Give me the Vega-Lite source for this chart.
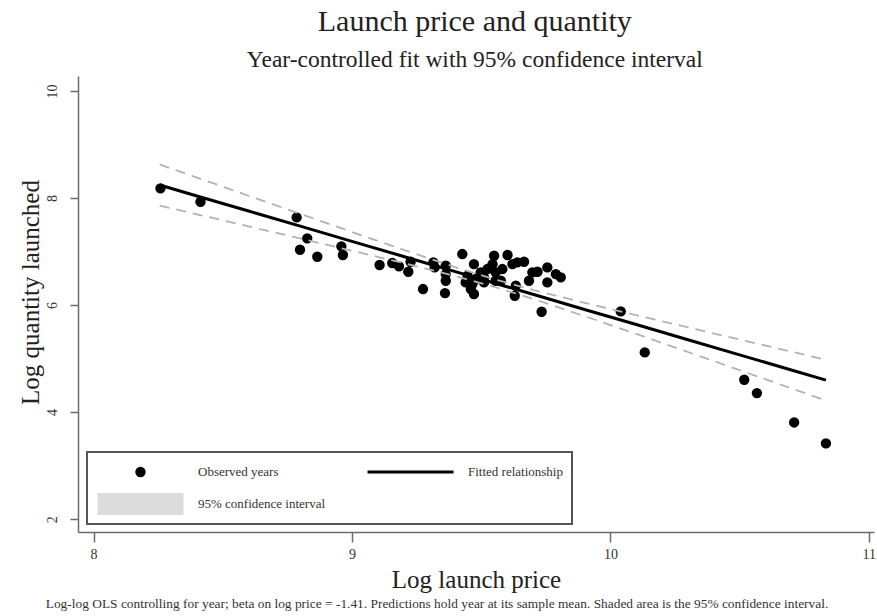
{
  "$schema": "https://vega.github.io/schema/vega-lite/v6.json",
  "background": "white",
  "padding": {"left": 17, "top": 6, "right": 2, "bottom": 0},
  "title": {
    "text": "Launch price and quantity",
    "subtitle": "Year-controlled fit with 95% confidence interval",
    "anchor": "middle",
    "dx": 28,
    "font": "Liberation Serif",
    "fontSize": 30,
    "fontWeight": "normal",
    "color": "#222222",
    "subtitleFont": "Liberation Serif",
    "subtitleFontSize": 23.5,
    "subtitleColor": "#222222",
    "subtitlePadding": 11,
    "offset": 5
  },
  "datasets": {
    "points": [
      {"price": 8.259, "qty": 8.181, "series": "Observed years"},
      {"price": 8.414, "qty": 7.931, "series": "Observed years"},
      {"price": 8.786, "qty": 7.639, "series": "Observed years"},
      {"price": 8.827, "qty": 7.247, "series": "Observed years"},
      {"price": 8.799, "qty": 7.034, "series": "Observed years"},
      {"price": 8.866, "qty": 6.903, "series": "Observed years"},
      {"price": 8.959, "qty": 7.097, "series": "Observed years"},
      {"price": 8.965, "qty": 6.935, "series": "Observed years"},
      {"price": 9.107, "qty": 6.748, "series": "Observed years"},
      {"price": 9.156, "qty": 6.785, "series": "Observed years"},
      {"price": 9.182, "qty": 6.723, "series": "Observed years"},
      {"price": 9.218, "qty": 6.623, "series": "Observed years"},
      {"price": 9.227, "qty": 6.81, "series": "Observed years"},
      {"price": 9.275, "qty": 6.299, "series": "Observed years"},
      {"price": 9.315, "qty": 6.798, "series": "Observed years"},
      {"price": 9.32, "qty": 6.704, "series": "Observed years"},
      {"price": 9.363, "qty": 6.735, "series": "Observed years"},
      {"price": 9.363, "qty": 6.579, "series": "Observed years"},
      {"price": 9.363, "qty": 6.454, "series": "Observed years"},
      {"price": 9.36, "qty": 6.224, "series": "Observed years"},
      {"price": 9.427, "qty": 6.953, "series": "Observed years"},
      {"price": 9.472, "qty": 6.766, "series": "Observed years"},
      {"price": 9.447, "qty": 6.548, "series": "Observed years"},
      {"price": 9.44, "qty": 6.424, "series": "Observed years"},
      {"price": 9.46, "qty": 6.299, "series": "Observed years"},
      {"price": 9.472, "qty": 6.206, "series": "Observed years"},
      {"price": 9.479, "qty": 6.486, "series": "Observed years"},
      {"price": 9.498, "qty": 6.611, "series": "Observed years"},
      {"price": 9.511, "qty": 6.424, "series": "Observed years"},
      {"price": 9.524, "qty": 6.673, "series": "Observed years"},
      {"price": 9.55, "qty": 6.921, "series": "Observed years"},
      {"price": 9.544, "qty": 6.766, "series": "Observed years"},
      {"price": 9.556, "qty": 6.611, "series": "Observed years"},
      {"price": 9.582, "qty": 6.673, "series": "Observed years"},
      {"price": 9.556, "qty": 6.454, "series": "Observed years"},
      {"price": 9.576, "qty": 6.454, "series": "Observed years"},
      {"price": 9.602, "qty": 6.935, "series": "Observed years"},
      {"price": 9.621, "qty": 6.766, "series": "Observed years"},
      {"price": 9.64, "qty": 6.798, "series": "Observed years"},
      {"price": 9.666, "qty": 6.81, "series": "Observed years"},
      {"price": 9.634, "qty": 6.361, "series": "Observed years"},
      {"price": 9.63, "qty": 6.174, "series": "Observed years"},
      {"price": 9.698, "qty": 6.611, "series": "Observed years"},
      {"price": 9.718, "qty": 6.623, "series": "Observed years"},
      {"price": 9.685, "qty": 6.454, "series": "Observed years"},
      {"price": 9.756, "qty": 6.704, "series": "Observed years"},
      {"price": 9.789, "qty": 6.579, "series": "Observed years"},
      {"price": 9.808, "qty": 6.518, "series": "Observed years"},
      {"price": 9.756, "qty": 6.424, "series": "Observed years"},
      {"price": 9.734, "qty": 5.875, "series": "Observed years"},
      {"price": 9.453, "qty": 6.455, "series": "Observed years"},
      {"price": 9.466, "qty": 6.393, "series": "Observed years"},
      {"price": 9.511, "qty": 6.517, "series": "Observed years"},
      {"price": 10.04, "qty": 5.882, "series": "Observed years"},
      {"price": 10.133, "qty": 5.116, "series": "Observed years"},
      {"price": 10.518, "qty": 4.604, "series": "Observed years"},
      {"price": 10.567, "qty": 4.355, "series": "Observed years"},
      {"price": 10.711, "qty": 3.807, "series": "Observed years"},
      {"price": 10.834, "qty": 3.415, "series": "Observed years"}
    ],
    "fit": [
      {"price": 8.256, "fit": 8.243, "lo": 7.859, "hi": 8.627},
      {"price": 8.4, "fit": 8.039, "lo": 7.696, "hi": 8.382},
      {"price": 8.6, "fit": 7.757, "lo": 7.471, "hi": 8.043},
      {"price": 8.8, "fit": 7.474, "lo": 7.244, "hi": 7.704},
      {"price": 9.0, "fit": 7.191, "lo": 7.016, "hi": 7.366},
      {"price": 9.2, "fit": 6.908, "lo": 6.784, "hi": 7.032},
      {"price": 9.4, "fit": 6.625, "lo": 6.542, "hi": 6.708},
      {"price": 9.55, "fit": 6.413, "lo": 6.342, "hi": 6.484},
      {"price": 9.7, "fit": 6.201, "lo": 6.118, "hi": 6.284},
      {"price": 9.9, "fit": 5.918, "lo": 5.794, "hi": 6.042},
      {"price": 10.1, "fit": 5.636, "lo": 5.461, "hi": 5.811},
      {"price": 10.3, "fit": 5.353, "lo": 5.123, "hi": 5.583},
      {"price": 10.5, "fit": 5.07, "lo": 4.784, "hi": 5.356},
      {"price": 10.7, "fit": 4.787, "lo": 4.444, "hi": 5.13},
      {"price": 10.834, "fit": 4.598, "lo": 4.217, "hi": 4.979}
    ]
  },
  "vconcat": [
    {
      "width": 796,
      "height": 456,
      "title": {
        "text": "Log-log OLS controlling for year; beta on log price = -1.41. Predictions hold year at its sample mean. Shaded area is the 95% confidence interval.",
        "orient": "bottom",
        "anchor": "middle",
        "dx": -39,
        "font": "Liberation Serif",
        "fontSize": 13.4,
        "fontWeight": "normal",
        "color": "#333333",
        "offset": 5
      },
      "layer": [
        {
          "data": {"name": "points"},
          "mark": {"type": "point", "filled": true, "size": 7396, "opacity": 1, "strokeWidth": 3},
          "encoding": {
            "x": {"field": "price", "type": "quantitative", "title": "Log launch price",
                  "scale": {"domain": [7.94, 11.02], "nice": false, "zero": false},
                  "axis": {"values": [8, 9, 10, 11], "format": "d"}},
            "y": {"field": "qty", "type": "quantitative", "title": "Log quantity launched",
                  "scale": {"domain": [1.76, 10.28], "nice": false, "zero": false},
                  "axis": {"values": [2, 4, 6, 8, 10], "format": "d"}},
            "fill": {
              "field": "series", "type": "nominal",
              "scale": {"domain": ["Observed years", "Fitted relationship", "95% confidence interval"],
                        "range": ["#000000", "transparent", "#dcdcdc"]},
              "legend": {
                "orient": "none", "legendX": 9, "legendY": 376, "title": null,
                "direction": "horizontal",
                "columns": 2, "columnPadding": 40, "rowPadding": 10, "padding": 9,
                "clipHeight": 22, "labelOffset": 13, "symbolOffset": 0,
                "symbolSize": 7396, "symbolStrokeWidth": 3,
                "labelFont": "Liberation Serif", "labelFontSize": 13, "labelColor": "#333333",
                "strokeColor": "#555555"
              }
            },
            "stroke": {
              "field": "series", "type": "nominal",
              "scale": {"domain": ["Observed years", "Fitted relationship", "95% confidence interval"],
                        "range": ["#000000", "#000000", "#dcdcdc"]},
              "legend": {
                "orient": "none", "legendX": 9, "legendY": 376, "title": null,
                "direction": "horizontal",
                "columns": 2, "columnPadding": 40, "rowPadding": 10, "padding": 9,
                "clipHeight": 22, "labelOffset": 13, "symbolOffset": 0,
                "symbolSize": 7396, "symbolStrokeWidth": 3,
                "labelFont": "Liberation Serif", "labelFontSize": 13, "labelColor": "#333333",
                "strokeColor": "#555555"
              }
            },
            "shape": {
              "field": "series", "type": "nominal",
              "scale": {"domain": ["Observed years", "Fitted relationship", "95% confidence interval"],
                        "range": ["M-0.086,0A0.086,0.086,0,1,0,0.086,0A0.086,0.086,0,1,0,-0.086,0Z", "M-1,0H1", "M-0.965,-0.221H0.965V0.221H-0.965Z"]},
              "legend": {
                "orient": "none", "legendX": 9, "legendY": 376, "title": null,
                "direction": "horizontal",
                "columns": 2, "columnPadding": 40, "rowPadding": 10, "padding": 9,
                "clipHeight": 22, "labelOffset": 13, "symbolOffset": 0,
                "symbolSize": 7396, "symbolStrokeWidth": 3,
                "labelFont": "Liberation Serif", "labelFontSize": 13, "labelColor": "#333333",
                "strokeColor": "#555555"
              }
            }
          }
        },
        {
          "data": {"name": "fit"},
          "mark": {"type": "line", "color": "#b3b3b3", "strokeWidth": 1.8, "strokeDash": [10, 7]},
          "encoding": {
            "x": {"field": "price", "type": "quantitative", "title": "Log launch price"},
            "y": {"field": "hi", "type": "quantitative", "title": "Log quantity launched"}
          }
        },
        {
          "data": {"name": "fit"},
          "mark": {"type": "line", "color": "#b3b3b3", "strokeWidth": 1.8, "strokeDash": [10, 7]},
          "encoding": {
            "x": {"field": "price", "type": "quantitative", "title": "Log launch price"},
            "y": {"field": "lo", "type": "quantitative", "title": "Log quantity launched"}
          }
        },
        {
          "data": {"name": "fit"},
          "mark": {"type": "line", "color": "#000000", "strokeWidth": 3},
          "encoding": {
            "x": {"field": "price", "type": "quantitative", "title": "Log launch price"},
            "y": {"field": "fit", "type": "quantitative", "title": "Log quantity launched"}
          }
        }
      ]
    }
  ],
  "config": {
    "view": {"stroke": null},
    "legend": {"strokeWidth": 2},
    "axis": {
      "grid": false,
      "domainColor": "#6b6b6b", "domainWidth": 1.5,
      "tickColor": "#6b6b6b", "tickWidth": 1.5,
      "labelFont": "Liberation Serif", "labelFontSize": 14, "labelColor": "#333333",
      "titleFont": "Liberation Serif", "titleFontSize": 25, "titleFontWeight": "normal", "titleColor": "#222222"
    },
    "axisX": {"tickSize": 10, "labelPadding": 5, "titlePadding": 6},
    "axisY": {"tickSize": 8, "labelPadding": 11, "labelAngle": 270, "labelAlign": "center", "labelBaseline": "bottom", "titlePadding": 2, "titleY": 216}
  }
}
